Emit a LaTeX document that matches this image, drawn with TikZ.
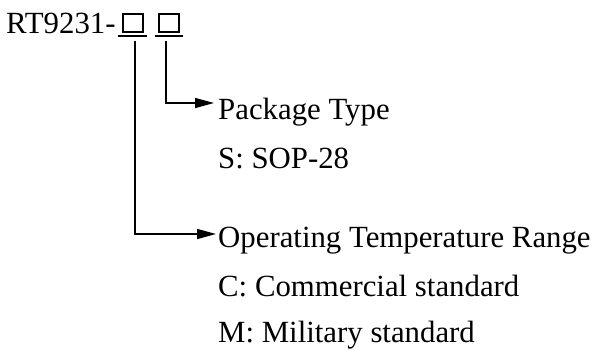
\documentclass[tikz,border=0pt]{standalone}
\usepackage{fontspec}
\setmainfont{Liberation Serif}
\usetikzlibrary{arrows.meta}
\begin{document}
\begin{tikzpicture}[x=1pt,y=-1pt,
  txt/.style={anchor=base west,inner sep=0pt,font=\fontsize{30.8}{37}\selectfont},
  codebox/.style={draw,line width=2.2pt,minimum width=20.5pt,minimum height=18.5pt,inner sep=0pt},
  uline/.style={line width=2.2pt},
  conn/.style={line width=1.5pt,-{Triangle[length=19pt,width=10pt]}}]
\useasboundingbox (0,0) rectangle (603,349);
\node[txt] (pn) at (6,33) {RT9231-};
\node[codebox] (b1) at (133,23) {};
\node[codebox] (b2) at (169,23) {};
\draw[uline] ([xshift=-4pt,yshift=-3pt]b1.south west) -- ([xshift=3pt,yshift=-3pt]b1.south east);
\draw[uline] ([xshift=-3pt,yshift=-3pt]b2.south west) -- ([xshift=3pt,yshift=-3pt]b2.south east);
\coordinate (s1) at (135,41);
\coordinate (s2) at (166,41);
\coordinate (e2) at (214,103);
\coordinate (e1) at (216,234);
\node[txt] (pt) at (218,119) {Package Type};
\node[txt] (sop) at (218,168) {S: SOP-28};
\node[txt] (op) at (218,247) {Operating Temperature Range};
\node[txt] (com) at (218,296) {C: Commercial standard};
\node[txt] (mil) at (218,342.5) {M: Military standard};
\draw[conn] (s2) |- (e2);
\draw[conn] (s1) |- (e1);
\end{tikzpicture}
\end{document}
